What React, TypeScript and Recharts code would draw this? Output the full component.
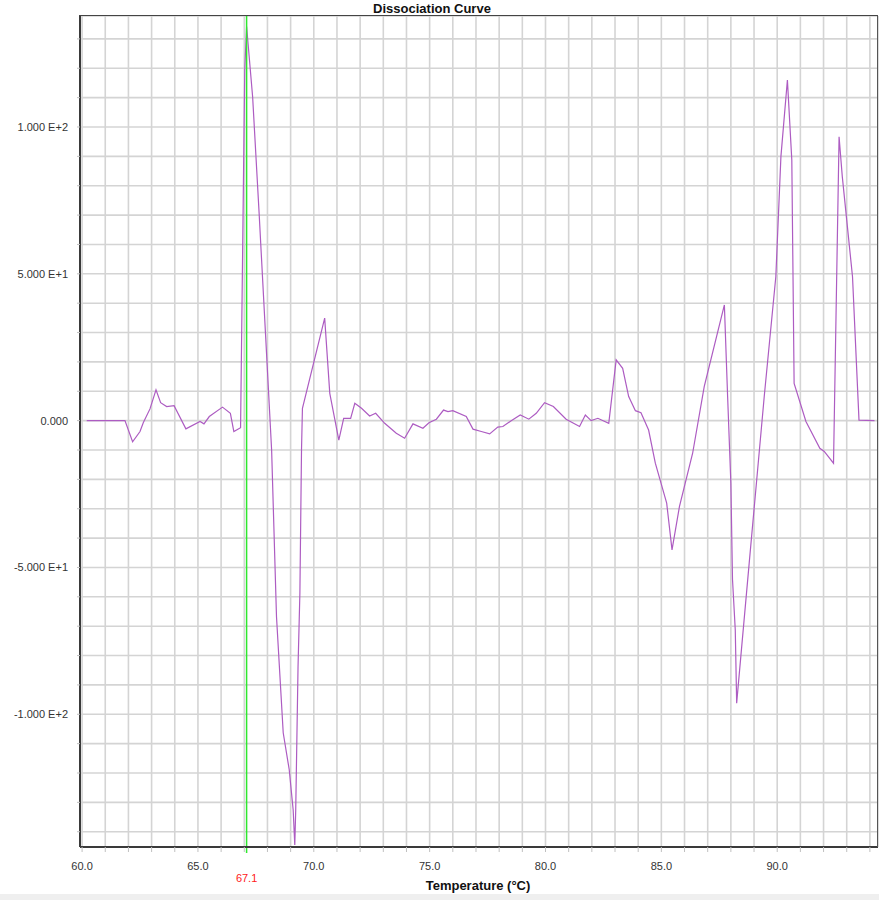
import React from 'react';
import { LineChart, Line, XAxis, YAxis, CartesianGrid, ReferenceLine } from 'recharts';

const temperature = [60.2, 61.85, 62.18, 62.5, 62.64, 62.93, 63.19, 63.39, 63.65, 63.97, 64.48, 65.09, 65.26, 65.49, 66.06, 66.4, 66.55, 66.84, 67.02, 67.1, 67.36, 67.64, 67.93, 68.18, 68.39, 68.68, 68.94, 69.11, 69.18, 69.22, 69.32, 69.4, 69.47, 69.51, 70.47, 70.69, 71.08, 71.29, 71.59, 71.77, 72.06, 72.41, 72.67, 73.06, 73.56, 73.92, 74.28, 74.71, 74.97, 75.29, 75.6, 75.79, 76.0, 76.58, 76.87, 77.23, 77.59, 77.94, 78.16, 78.52, 78.91, 79.28, 79.6, 79.96, 80.34, 80.89, 81.47, 81.72, 81.97, 82.26, 82.73, 83.05, 83.33, 83.59, 83.88, 84.12, 84.45, 84.74, 85.23, 85.46, 85.78, 86.35, 86.85, 87.72, 87.86, 88.0, 88.07, 88.19, 88.25, 88.43, 88.79, 89.05, 89.44, 89.94, 90.16, 90.44, 90.63, 90.73, 91.24, 91.84, 92.03, 92.43, 92.67, 92.81, 93.25, 93.53, 94.2];

const derivative = [0, 0, -7.2, -3.7, -0.7, 4, 10.5, 6.1, 4.8, 5.1, -2.8, -0.3, -1.1, 1.4, 4.6, 2.5, -3.7, -2.4, 119.4, 134.2, 110.3, 70.7, 27.5, -10, -66.7, -106.3, -118.9, -132.6, -144.5, -132.6, -83.8, -58.7, -10, 4.2, 34.9, 9.3, -6.6, 0.8, 0.8, 5.9, 4.2, 1.6, 2.5, -0.9, -4.3, -6, -1.1, -2.6, -0.7, 0.5, 3.6, 3.1, 3.4, 1.4, -2.9, -3.7, -4.5, -2.2, -2, 0, 1.9, 0.5, 2.5, 6.1, 4.8, 0.5, -2, 1.9, 0, 0.8, -0.9, 20.7, 17.8, 8.2, 3.4, 2.7, -3.2, -14.5, -28.1, -44, -29.3, -11.1, 11.6, 39.4, 8.2, -21.3, -54, -71.3, -96.2, -80.3, -48.6, -25.9, 8.2, 49, 89.9, 116, 88.8, 12.7, -0.3, -9.4, -10.5, -14.5, 96.7, 83, 49, 0.2, 0];

const xTicks = [60, 61, 62, 63, 64, 65, 66, 67, 68, 69, 70, 71, 72, 73, 74, 75, 76, 77, 78, 79, 80, 81, 82, 83, 84, 85, 86, 87, 88, 89, 90, 91, 92, 93, 94];
const xLabelValues = [60, 65, 70, 75, 80, 85, 90];
const xLabelTexts = ['60.0', '65.0', '70.0', '75.0', '80.0', '85.0', '90.0'];

const yTicks = [-140, -130, -120, -110, -100, -90, -80, -70, -60, -50, -40, -30, -20, -10, 0, 10, 20, 30, 40, 50, 60, 70, 80, 90, 100, 110, 120, 130];
const yLabelValues = [-100, -50, 0, 50, 100];
const yLabelTexts = ['-1.000 E+2', '-5.000 E+1', '0.000', '5.000 E+1', '1.000 E+2'];

const markerTemp = 67.1;
const markerText = '67.1';
const chartTitle = 'Dissociation Curve';
const xTitle = 'Temperature (°C)';

const data = temperature.map((t, i) => ({ t, v: derivative[i] }));

const fmtX = (v: number) => {
  const i = xLabelValues.indexOf(v);
  return i >= 0 ? xLabelTexts[i] : '';
};
const fmtY = (v: number) => {
  const i = yLabelValues.indexOf(v);
  return i >= 0 ? yLabelTexts[i] : '';
};

const FONT = '"Liberation Sans", Arial, sans-serif';

const MarkerLabel = (props: any) => {
  const vb = props.viewBox || {};
  const x = vb.x;
  const bottom = vb.y + vb.height;
  return (
    <g>
      <line x1={x} y1={bottom} x2={x} y2={bottom + 6} stroke="#2ee82e" strokeWidth={1.5} />
      <text x={x} y={bottom + 35} fill="#ff2020" fontSize={11} fontFamily={FONT} textAnchor="middle">
        {markerText}
      </text>
    </g>
  );
};

export default function App() {
  return (
    <div style={{ position: 'absolute', left: 0, top: 0, width: 879, height: 900, background: '#ffffff', overflow: 'hidden' }}>
      <LineChart
        width={879}
        height={900}
        data={data}
        margin={{ top: 16, right: 1, bottom: 13, left: 0 }}
      >
        <CartesianGrid stroke="#d4d4d4" strokeWidth={1.6} />
        <XAxis
          dataKey="t"
          type="number"
          domain={[59.91, 94.35]}
          ticks={xTicks}
          interval={0}
          allowDataOverflow
          tickFormatter={fmtX}
          height={40}
          tickSize={5}
          tickMargin={10}
          axisLine={{ stroke: '#3a3a3a', strokeWidth: 2 }}
          tickLine={{ stroke: '#c0c0c0' }}
          tick={{ fontSize: 11, fill: '#333', fontFamily: FONT }}
        />
        <YAxis
          type="number"
          domain={[-145.2, 137.8]}
          ticks={yTicks}
          interval={0}
          allowDataOverflow
          tickFormatter={fmtY}
          width={80}
          tickSize={3}
          tickMargin={9}
          axisLine={{ stroke: '#3a3a3a', strokeWidth: 2 }}
          tickLine={{ stroke: '#c0c0c0' }}
          tick={{ fontSize: 11, fill: '#333', fontFamily: FONT }}
        />
        <Line
          type="linear"
          dataKey="v"
          stroke="#ad5cc2"
          strokeWidth={1.2}
          dot={false}
          activeDot={false}
          isAnimationActive={false}
        />
        <ReferenceLine x={markerTemp} stroke="#2ee82e" strokeWidth={1.5} label={<MarkerLabel />} />
      </LineChart>
      <div style={{ position: 'absolute', left: 79, top: 15, width: 799, height: 832, borderTop: '1.5px solid #444', borderRight: '1.5px solid #555', boxSizing: 'border-box', pointerEvents: 'none' }} />
      <div style={{ position: 'absolute', left: 332, width: 200, top: 1, textAlign: 'center', fontFamily: FONT, fontWeight: 'bold', fontSize: 13, color: '#111', lineHeight: '16px' }}>
        {chartTitle}
      </div>
      <div style={{ position: 'absolute', left: 378, width: 200, top: 878, textAlign: 'center', fontFamily: FONT, fontWeight: 'bold', fontSize: 13, color: '#111', lineHeight: '16px' }}>
        {xTitle}
      </div>
      <div style={{ position: 'absolute', left: 0, top: 894, width: 879, height: 6, background: '#efefef' }} />
    </div>
  );
}
